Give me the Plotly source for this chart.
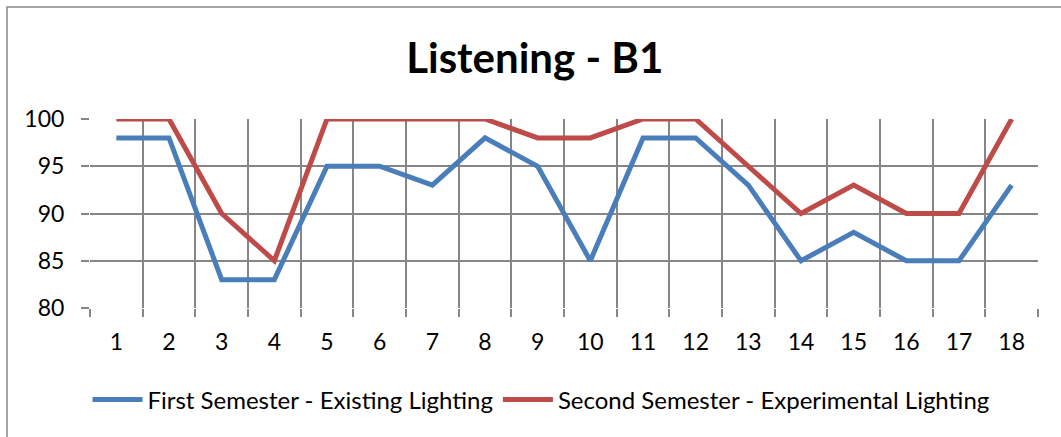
import plotly.graph_objects as go

categories = list(range(1, 19))
first_semester = [98, 98, 83, 83, 95, 95, 93, 98, 95, 85, 98, 98, 93, 85, 88, 85, 85, 93]
second_semester = [100, 100, 90, 85, 100, 100, 100, 100, 98, 98, 100, 100, 95, 90, 93, 90, 90, 100]
y_ticks = [80, 85, 90, 95, 100]

W, H = 1061, 437
L, R, T, B = 90, 23, 119, 129
GRID = "#868686"
FONT = "Lato"

fig = go.Figure()
fig.add_trace(go.Scatter(x=categories, y=first_semester, mode="lines",
                         name="First Semester - Existing Lighting",
                         line=dict(color="#4A7EBB", width=5)))
fig.add_trace(go.Scatter(x=categories, y=second_semester, mode="lines",
                         name="Second Semester - Experimental Lighting",
                         line=dict(color="#BE4B48", width=5)))

pw = W - L - R
ph = H - T - B
fig.add_shape(type="rect", xref="paper", yref="paper",
              x0=(7 - L) / pw, x1=(W + 50 - L) / pw,
              y0=-(H + 50 - T - ph) / ph, y1=(H - 7 - B) / ph,
              line=dict(color=GRID, width=1.5), layer="below")

fig.update_layout(
    width=W, height=H,
    margin=dict(l=L, r=R, t=T, b=B),
    paper_bgcolor="white", plot_bgcolor="white",
    font=dict(family=FONT, size=23, color="black"),
    title=dict(text="<b>Listening - B1</b>", x=0.504, xanchor="center",
               y=1 - 58 / H, yanchor="middle",
               font=dict(family=FONT, size=42, color="black")),
    showlegend=True,
    legend=dict(orientation="h", x=(541 - L) / pw, xanchor="center", y=-(400 - T - ph) / ph,
                yanchor="middle", font=dict(family=FONT, size=24), itemwidth=50,
                bgcolor="rgba(0,0,0,0)"),
)
fig.update_xaxes(range=[0.5, 18.5], tickvals=categories, ticktext=[str(c) for c in categories],
                 showgrid=False, zeroline=False, showline=False, ticks="",
                 ticklabelstandoff=18,
                 minor=dict(tick0=0.5, dtick=1, showgrid=True, gridcolor=GRID, gridwidth=1.5,
                            ticks="outside", ticklen=8, tickcolor=GRID, tickwidth=1.5))
fig.update_yaxes(range=[80, 100], tickvals=y_ticks, showgrid=True, gridcolor=GRID, gridwidth=1.5,
                 zeroline=False, showline=False, ticks="outside", ticklen=8, tickcolor=GRID,
                 tickwidth=1.5, ticklabelstandoff=12)

fig.write_html("out.html", config={"displayModeBar": False},
               post_script="document.body.style.margin='0';document.body.style.overflow='hidden';")
